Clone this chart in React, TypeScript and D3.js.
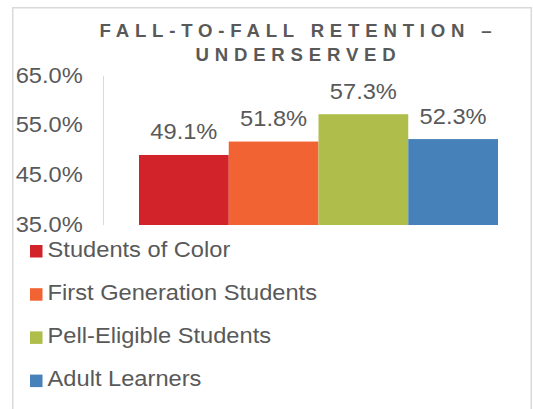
import React from "react";
import * as d3 from "d3";

const title1 = "FALL-TO-FALL RETENTION –";
const title2 = "UNDERSERVED";
const series = ["Students of Color", "First Generation Students", "Pell-Eligible Students", "Adult Learners"];
const values = [49.1, 51.8, 57.3, 52.3];
const colors = ["#D2232A", "#F16332", "#AFBD4A", "#4682B9"];
const yTicks = [35, 45, 55, 65];

const SX = 1.1;
const FS = 21.5;
const TXT = "#595959";

function T({ x, y, anchor, children }: { x: number; y: number; anchor: "start" | "middle" | "end"; children: React.ReactNode }) {
  return (
    <g transform={`translate(${x},${y}) scale(${SX},1)`}>
      <text x={0} y={0} textAnchor={anchor} fontSize={FS} fill={TXT}>{children}</text>
    </g>
  );
}

export default function App() {
  const W = 533, H = 409;
  const y = d3.scaleLinear().domain([35, 65]).range([225, 76]);
  const x = d3.scaleBand<string>().domain(series).range([139, 498]).padding(0);
  const font = "Arial, 'Liberation Sans', Helvetica, sans-serif";
  return (
    <svg width={W} height={H} style={{ position: "absolute", left: 0, top: 0, display: "block" }} fontFamily={font}>
      <rect x={0} y={0} width={W} height={H} fill="#fff" />
      <rect x={12.75} y={7.75} width={518.5} height={420} fill="#fff" stroke="#D9D9D9" strokeWidth={1.5} />
      <text x={298.5} y={36.5} textAnchor="middle" fontSize={18.6} fontWeight="bold" fill={TXT} letterSpacing={5.8}>{title1}</text>
      <text x={298.5} y={60.5} textAnchor="middle" fontSize={18.6} fontWeight="bold" fill={TXT} letterSpacing={5.8}>{title2}</text>
      <line x1={103.5} x2={103.5} y1={y(65)} y2={y(35)} stroke="#D9D9D9" strokeWidth={1} />
      {yTicks.map((t) => (
        <T key={t} x={82.7} y={y(t) + 6.7} anchor="end">{d3.format(".1f")(t) + "%"}</T>
      ))}
      {series.map((s, i) => (
        <g key={s}>
          <rect x={x(s)} y={y(values[i])} width={x.bandwidth()} height={y(35) - y(values[i])} fill={colors[i]} />
          <T x={(x(s) as number) + x.bandwidth() / 2} y={y(values[i]) - 15.5} anchor="middle">{values[i].toFixed(1) + "%"}</T>
        </g>
      ))}
      {series.map((s, i) => (
        <g key={"l" + s}>
          <rect x={30} y={245 + i * 43.2} width={12.5} height={12.5} fill={colors[i]} />
          <T x={47.6} y={256.7 + i * 43.2} anchor="start">{s}</T>
        </g>
      ))}
    </svg>
  );
}
